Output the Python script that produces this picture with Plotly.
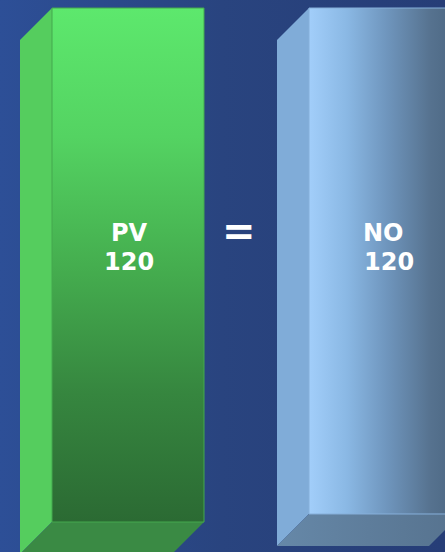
import plotly.graph_objects as go

# ---- data ----
labels = ["PV", "NO"]
values = [120, 120]
relation = "="

# ---- style ----
W, H = 445, 552
box_left = [52, 309]          # x-axis units (pixel-like)
box_width = 152
box_floor = [0.0, 1.87]       # visual floor of each box (y units)
depth_x = 32                  # oblique depth, x units
y_range = [-7.004, 121.868]
px_per_unit = H / (y_range[1] - y_range[0])
depth_y = 32 / px_per_unit

front_scales = [
    [[0, "#2b6a33"], [0.25, "#36863f"], [0.5, "#45ae4f"], [0.75, "#54d362"], [1, "#5de86d"]],
    [[0, "#a2cefa"], [0.25, "#8ab8e4"], [0.5, "#7097bf"], [0.8, "#56728f"], [1, "#4a6580"]],
]
front_edge = ["#44a84e", "#86b0da"]
side_colors = ["#55cd5e", "#80acd8"]
bottom_colors = ["#3a8a44", "#5f7fa0"]
bottom_scales = [None, [[0, "#6688a8"], [1, "#56728e"]]]

fig = go.Figure()

# background gradient
fig.add_trace(go.Scatter(
    x=[0, W, W, 0, 0], y=[y_range[0], y_range[0], y_range[1], y_range[1], y_range[0]],
    mode="lines", line=dict(width=0), fill="toself",
    fillgradient=dict(type="horizontal",
                      colorscale=[[0, "#2d4f97"], [0.5, "#29447f"], [1, "#263d77"]]),
    hoverinfo="skip", showlegend=False))

for i, (lab, val) in enumerate(zip(labels, values)):
    x0 = box_left[i]
    x1 = x0 + box_width
    b = box_floor[i]
    t = val
    # left side face
    fig.add_trace(go.Scatter(
        x=[x0, x0 - depth_x, x0 - depth_x, x0, x0],
        y=[t, t - depth_y, b - depth_y, b, t],
        mode="lines", line=dict(width=0), fill="toself",
        fillcolor=side_colors[i], hoverinfo="skip", showlegend=False))
    # bottom face
    bt = dict(x=[x0, x1, x1 - depth_x, x0 - depth_x, x0],
              y=[b, b, b - depth_y, b - depth_y, b],
              mode="lines", line=dict(width=0), fill="toself",
              hoverinfo="skip", showlegend=False)
    if bottom_scales[i]:
        bt["fillgradient"] = dict(type="horizontal", colorscale=bottom_scales[i])
    else:
        bt["fillcolor"] = bottom_colors[i]
    fig.add_trace(go.Scatter(**bt))
    # front face
    fig.add_trace(go.Scatter(
        x=[x0, x1, x1, x0, x0], y=[b, b, t, t, b],
        mode="lines", line=dict(width=1, color=front_edge[i]), fill="toself",
        fillgradient=dict(type="vertical" if i == 0 else "horizontal",
                          colorscale=front_scales[i]),
        name=lab, hovertemplate=f"{lab}: {val}<extra></extra>", showlegend=False))

# labels
label_dx = [1, -1.5]
number_dx = [0.5, 4]
txt_font = dict(family="DejaVu Sans", size=24, color="white", weight="bold")
for i, (lab, val) in enumerate(zip(labels, values)):
    cx = box_left[i] + box_width / 2
    fig.add_annotation(x=cx, y=val, text=lab, showarrow=False, font=txt_font,
                       xanchor="center", yanchor="middle", xshift=label_dx[i], yshift=-225)
    fig.add_annotation(x=cx, y=val, text=str(val), showarrow=False, font=txt_font,
                       xanchor="center", yanchor="middle", xshift=number_dx[i], yshift=-254)

# relation sign between the boxes
mid_x = (box_left[0] + box_width + box_left[1] - depth_x) / 2
fig.add_annotation(x=mid_x, y=values[0], text=relation, showarrow=False,
                   font=dict(family="DejaVu Sans", size=40, color="white", weight="bold"),
                   xanchor="center", yanchor="middle", xshift=-2, yshift=-223)

fig.update_layout(
    width=W, height=H, margin=dict(l=0, r=0, t=0, b=0),
    paper_bgcolor="#29447f", plot_bgcolor="#29447f",
    xaxis=dict(range=[0, W], visible=False, fixedrange=True),
    yaxis=dict(range=y_range, visible=False, fixedrange=True),
    showlegend=False,
)

fig.write_html("out.html")
